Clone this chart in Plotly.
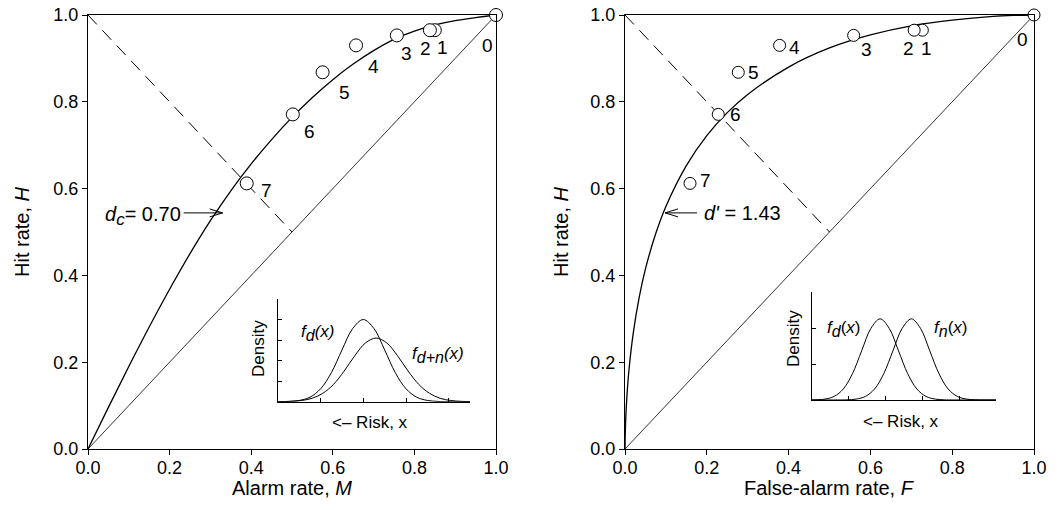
import plotly.graph_objects as go

# ---------------- data ----------------
point_ids = ["0", "1", "2", "3", "4", "5", "6", "7"]
hit_rate = [1.0, 0.965, 0.965, 0.953, 0.930, 0.868, 0.771, 0.612]
alarm_rate = [1.0, 0.850, 0.838, 0.757, 0.657, 0.575, 0.502, 0.389]
false_alarm_rate = [1.0, 0.727, 0.707, 0.559, 0.378, 0.277, 0.228, 0.159]

# fitted ROC curve, left panel
roc_left_m = [0, 0.05, 0.1, 0.15, 0.2, 0.25, 0.3, 0.35, 0.4, 0.45, 0.5, 0.55,
              0.6, 0.65, 0.7, 0.75, 0.8, 0.85, 0.9, 0.95, 1.0]
roc_left_h = [0, 0.096, 0.190, 0.281, 0.368, 0.450, 0.526, 0.595, 0.657, 0.713,
              0.764, 0.810, 0.851, 0.887, 0.918, 0.944, 0.963, 0.977, 0.987,
              0.994, 1.0]

# fitted ROC curve, right panel
roc_right_f = [0, 0.0005, 0.001, 0.002, 0.005, 0.01, 0.02, 0.035, 0.05, 0.075,
               0.1, 0.15, 0.2, 0.25, 0.3, 0.4, 0.5, 0.6, 0.7, 0.8, 0.9, 0.95, 1.0]
roc_right_h = [0, 0.031, 0.048, 0.074, 0.126, 0.185, 0.266, 0.351, 0.415, 0.496,
               0.559, 0.653, 0.722, 0.775, 0.817, 0.880, 0.924, 0.954, 0.975,
               0.988, 0.9967, 0.999, 1.0]

chance_x = [0, 1]
chance_y = [0, 1]
neg_diag_x = [0, 0.5]
neg_diag_y = [1, 0.5]

# arrow targets / annotation values
dc_label = "<i>d<sub><span style='font-size:17px'>c</span></sub></i>= 0.70"
dc_tip = (0.33, 0.544)
dprime_label = "<i>d'</i> = 1.43"
dprime_tip = (0.098, 0.544)

# inset densities
left_fd_x = [0, 0.25, 0.5, 0.75, 1.0, 1.25, 1.5, 1.75, 2.0, 2.25, 2.5, 2.75,
             3.0, 3.25, 3.5, 3.75, 4.0, 4.5]
left_fd_y = [0.002, 0.014, 0.062, 0.22, 0.63, 1.41, 2.52, 3.56, 4.0, 3.56,
             2.52, 1.41, 0.63, 0.22, 0.062, 0.014, 0.002, 0]
left_fdn_x = [0, 0.3, 0.55, 0.8, 1.05, 1.3, 1.55, 1.8, 2.05, 2.3, 2.55, 2.8,
              3.05, 3.3, 3.55, 3.8, 4.05, 4.3, 4.5]
left_fdn_y = [0.003, 0.017, 0.058, 0.166, 0.41, 0.84, 1.49, 2.24, 2.86, 3.1,
              2.86, 2.24, 1.49, 0.84, 0.41, 0.166, 0.058, 0.017, 0.006]

right_fd_x = [0, 0.1, 0.35, 0.6, 0.85, 1.1, 1.35, 1.6, 1.85, 2.1, 2.35, 2.6,
              2.85, 3.1, 3.35, 3.6, 3.85, 5.0]
right_fd_y = [0.002, 0.005, 0.025, 0.099, 0.306, 0.734, 1.371, 1.994, 2.26,
              1.994, 1.371, 0.734, 0.306, 0.099, 0.025, 0.005, 0.001, 0]
right_fn_x = [0, 0.7, 0.95, 1.2, 1.45, 1.7, 1.95, 2.2, 2.45, 2.7, 2.95, 3.2,
              3.45, 3.7, 3.95, 4.2, 4.45, 4.7, 5.0]
right_fn_y = [0, 0.001, 0.005, 0.025, 0.099, 0.306, 0.734, 1.371, 1.994, 2.26,
              1.994, 1.371, 0.734, 0.306, 0.099, 0.025, 0.005, 0.001, 0]

main_ticks = [0, 0.2, 0.4, 0.6, 0.8, 1.0]

# ---------------- style ----------------
FONT = "Arial, 'Liberation Sans', sans-serif"
BLACK = "#000000"
L_W, R_W, T_M, B_M = 88, 24, 15, 61
FIG_W, FIG_H = 1058, 510
PW, PH = FIG_W - L_W - R_W, FIG_H - T_M - B_M


def px(xp):
    return (xp - L_W) / PW


def py(yp):
    return (FIG_H - B_M - yp) / PH


fig = go.Figure()

for xa, ya in (("x", "y"), ("x2", "y2")):
    fig.add_trace(go.Scatter(x=chance_x, y=chance_y, xaxis=xa, yaxis=ya, mode="lines",
                             line=dict(color=BLACK, width=0.8), hoverinfo="skip"))
    fig.add_trace(go.Scatter(x=neg_diag_x, y=neg_diag_y, xaxis=xa, yaxis=ya, mode="lines",
                             line=dict(color=BLACK, width=1, dash="13px,8px"), hoverinfo="skip"))

fig.add_trace(go.Scatter(x=roc_left_m, y=roc_left_h, xaxis="x", yaxis="y", mode="lines",
                         line=dict(color=BLACK, width=1.3, shape="spline")))
fig.add_trace(go.Scatter(x=roc_right_f, y=roc_right_h, xaxis="x2", yaxis="y2", mode="lines",
                         line=dict(color=BLACK, width=1.3, shape="spline")))

fig.add_trace(go.Scatter(x=alarm_rate, y=hit_rate, xaxis="x", yaxis="y", mode="markers",
                         marker=dict(size=13, color="white", line=dict(color=BLACK, width=1)),
                         cliponaxis=False))
fig.add_trace(go.Scatter(x=false_alarm_rate, y=hit_rate, xaxis="x2", yaxis="y2", mode="markers",
                         marker=dict(size=12, color="white", line=dict(color=BLACK, width=1)),
                         cliponaxis=False))

# insets
for xs, ys in ((left_fd_x, left_fd_y), (left_fdn_x, left_fdn_y)):
    fig.add_trace(go.Scatter(x=xs, y=ys, xaxis="x3", yaxis="y3", mode="lines",
                             line=dict(color=BLACK, width=1, shape="spline")))
for xs, ys in ((right_fd_x, right_fd_y), (right_fn_x, right_fn_y)):
    fig.add_trace(go.Scatter(x=xs, y=ys, xaxis="x4", yaxis="y4", mode="lines",
                             line=dict(color=BLACK, width=1, shape="spline")))

main_axis = dict(range=[0, 1], tickvals=main_ticks, tickformat=".1f", ticks="outside",
                 ticklen=5, tickwidth=1, tickcolor=BLACK, showline=True, linecolor=BLACK,
                 linewidth=1, mirror=True, showgrid=False, zeroline=False, automargin=False,
                 tickfont=dict(family=FONT, size=18, color=BLACK))
inset_axis = dict(showline=True, linecolor=BLACK, linewidth=1, ticks="inside", ticklen=4,
                  tickwidth=1, tickcolor=BLACK, showticklabels=False, showgrid=False,
                  zeroline=False, mirror=False, automargin=False)

fig.update_layout(
    template="none",
    width=FIG_W, height=FIG_H, showlegend=False, autosize=False,
    paper_bgcolor="white", plot_bgcolor="rgba(0,0,0,0)",
    margin=dict(l=L_W, r=R_W, t=T_M, b=B_M, pad=0),
    xaxis=dict(main_axis, domain=[0, px(496)], anchor="y", ticklabelstandoff=-3),
    yaxis=dict(main_axis, domain=[0, 1], anchor="x"),
    xaxis2=dict(main_axis, domain=[px(625), 1], anchor="y2", ticklabelstandoff=-3),
    yaxis2=dict(main_axis, domain=[0, 1], anchor="x2"),
    xaxis3=dict(inset_axis, domain=[px(278), px(470)], anchor="y3", range=[0, 4.5],
                tickvals=[1, 2, 3, 4]),
    yaxis3=dict(inset_axis, domain=[py(401.7), py(299)], anchor="x3", range=[0, 5],
                tickvals=[1, 2, 3, 4]),
    xaxis4=dict(inset_axis, domain=[px(812), px(996)], anchor="y4", range=[0, 5],
                tickvals=[1, 2, 3, 4]),
    yaxis4=dict(inset_axis, domain=[py(400), py(292.3)], anchor="x4", range=[0, 3],
                tickvals=[1, 2]),
)

ann = []
tf = dict(family=FONT, size=19, color=BLACK)
# point labels
left_off = [(-9, -30), (8, -17), (-4, -18), (10, -18), (17, -21), (22, -20), (17, -17), (20, -7)]
right_off = [(-12, -24), (4, -18), (-6, -18), (13, -14), (15, -2), (15, 0), (17, 0), (15, 3)]
for i, lab in enumerate(point_ids):
    ann.append(dict(x=alarm_rate[i], y=hit_rate[i], xref="x", yref="y", text=lab,
                    xanchor="center", yanchor="middle",
                    showarrow=False, xshift=left_off[i][0], yshift=left_off[i][1], font=tf))
    ann.append(dict(x=false_alarm_rate[i], y=hit_rate[i], xref="x2", yref="y2", text=lab,
                    xanchor="center", yanchor="middle",
                    showarrow=False, xshift=right_off[i][0], yshift=right_off[i][1], font=tf))

af = dict(family=FONT, size=20, color=BLACK)
ann.append(dict(x=dc_tip[0], y=dc_tip[1], xref="x", yref="y", text=dc_label, showarrow=False,
                xanchor="right", yanchor="middle", xshift=-40, yshift=-3, font=af))
ann.append(dict(x=dprime_tip[0], y=dprime_tip[1], xref="x2", yref="y2", text=dprime_label,
                showarrow=False, xanchor="left", yanchor="middle", xshift=37, yshift=0, font=af))

title_font = dict(family=FONT, size=20, color=BLACK)
paper_ann = [
    (292, 488, "Alarm rate, <i>M</i>", 0, title_font),
    (829.5, 488, "False-alarm rate, <i>F</i>", 0, title_font),
    (22, 232, "Hit rate, <i>H</i>", -90, title_font),
    (561, 232, "Hit rate, <i>H</i>", -90, title_font),
]
inset_font = dict(family=FONT, size=17, color=BLACK)
sub = "<sub><span style='font-size:16px'>%s</span></sub>"
paper_ann += [
    (258, 349, "Density", -90, inset_font),
    (793, 339, "Density", -90, inset_font),
    (370, 422.5, "&lt;\u2013 Risk, x", 0, inset_font),
    (901, 421.7, "&lt;\u2013 Risk, x", 0, inset_font),
    (317, 333, "<i>f" + sub % "d" + "(x)</i>", 0, inset_font),
    (438, 355, "<i>f" + sub % "d+n" + "(x)</i>", 0, inset_font),
    (843, 329, "<i>f" + sub % "d" + "</i>(<i>x</i>)", 0, inset_font),
    (950.5, 329, "<i>f" + sub % "n" + "</i>(<i>x</i>)", 0, inset_font),
]
for (xp, yp, txt, ang, fnt) in paper_ann:
    ann.append(dict(x=px(xp), y=py(yp), xref="paper", yref="paper", text=txt, textangle=ang,
                    xanchor="center", yanchor="middle", showarrow=False, font=fnt))
fig.update_layout(annotations=ann)

# arrows (pixel-sized shapes anchored at the curve points)
shapes = []
line = dict(color=BLACK, width=1)
for (x0, y0, x1, y1) in ((-39, 0, 0, 0), (-13, 4, 0, 0), (-13, -4, 0, 0)):
    shapes.append(dict(type="line", xref="x", yref="y", xsizemode="pixel", ysizemode="pixel",
                       xanchor=dc_tip[0], yanchor=dc_tip[1], x0=x0, y0=y0, x1=x1, y1=y1, line=line))
for (x0, y0, x1, y1) in ((32, 0, 0, 0), (13, 4, 0, 0), (13, -4, 0, 0)):
    shapes.append(dict(type="line", xref="x2", yref="y2", xsizemode="pixel", ysizemode="pixel",
                       xanchor=dprime_tip[0], yanchor=dprime_tip[1], x0=x0, y0=y0, x1=x1, y1=y1,
                       line=line))
fig.update_layout(shapes=shapes)

fig.write_html("out.html", config={"displayModeBar": False},
               post_script="document.body.style.margin='0px';document.body.style.overflow='hidden';")
